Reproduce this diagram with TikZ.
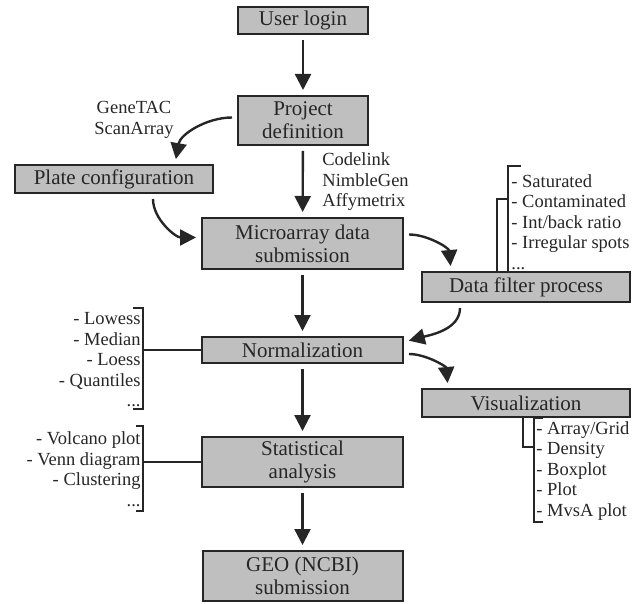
\documentclass[tikz,border=0pt]{standalone}
\usepackage{fontspec}
\setmainfont{Liberation Serif}
\usetikzlibrary{arrows.meta}
\newcommand\boxtxt{\fontsize{10.5}{11.5}\selectfont}
\newcommand\itemtxt{\fontsize{9.25}{10.25}\selectfont}

\begin{document}
\begin{tikzpicture}[x=0.5pt,y=-0.5pt,>={Triangle[length=8pt,width=8pt]},
 box/.style={draw=black!85,fill=black!25,line width=1pt,inner sep=0pt,align=center,font=\boxtxt,text=black!85},
 arr/.style={->,line width=1.2pt,draw=black!85,shorten <=2.5pt,shorten >=2.5pt},
 brk/.style={line width=1pt,draw=black!85},
 lst/.style={inner sep=0pt,font=\itemtxt,text=black!85}]
 \useasboundingbox (0,0) rectangle (640,603);
 % main column
 \node[box,minimum width=65pt,minimum height=13.5pt] (login) at (303,20.5) {User login};
 \node[box,minimum width=65pt,minimum height=24.5pt] (proj) at (303,120.5) {Project\\definition};
 \node[box,minimum width=99pt,minimum height=14pt] (plate) at (114,179) {Plate configuration};
 \node[box,minimum width=100.5pt,minimum height=25.5pt] (micro) at (302.5,243.5) {Microarray data\\submission};
 \node[box,minimum width=104pt,minimum height=15pt] (filter) at (526,287) {Data filter process};
 \node[box,minimum width=100.5pt,minimum height=13pt] (norm) at (302.5,350) {Normalization};
 \node[box,minimum width=104pt,minimum height=14pt] (vis) at (526,403) {Visualization};
 \node[box,minimum width=100.5pt,minimum height=25pt] (stat) at (302.5,462) {Statistical\\analysis};
 \node[box,minimum width=100pt,minimum height=25pt] (geo) at (302.5,576) {GEO (NCBI)\\submission};
 % labels
 \node[lst,align=center] (scan) at (134,120) {GeneTAC\\ScanArray};
 \node[lst,align=left,anchor=west] (chips) at (322,182) {Codelink\\NimbleGen\\Affymetrix};
 \node[lst,align=left,anchor=west] (flist) at (511,222) {- Saturated\\- Contaminated\\- Int/back ratio\\- Irregular spots\\...};
 \node[lst,align=left,anchor=west] (vlist) at (536,471) {- Array/Grid\\- Density\\- Boxplot\\- Plot\\- MvsA plot};
 \node[lst,align=right,anchor=east] (nlist) at (141,360) {- Lowess\\- Median\\- Loess\\- Quantiles\\...};
 \node[lst,align=right,anchor=east] (slist) at (141,469) {- Volcano plot\\- Venn diagram\\- Clustering\\...};
 % straight arrows
 \draw[arr] (login) -- (proj);
 \draw[arr] (proj) -- (micro);
 \draw[arr] (micro) -- (norm);
 \draw[arr] (norm) -- (stat);
 \draw[arr] (stat) -- (geo);
 % curved arrows
 \draw[arr] ([shift={(0,-3)}]proj.west) to[out=180,in=80] ([shift={(61,0)}]plate.north);
 \draw[arr] ([shift={(39,0)}]plate.south) to[out=-90,in=180] ([shift={(0,-6)}]micro.west);
 \draw[arr] ([shift={(0,-9)}]micro.east) to[out=0,in=95] ([shift={(-75,0)}]filter.north);
 \draw[arr] ([shift={(-66,0)}]filter.south) to[out=-90,in=15] ([shift={(0,-8)}]norm.east);
 \draw[arr] ([shift={(0,4)}]norm.east) to[out=0,in=95] ([shift={(-78,0)}]vis.north);
 % brackets
 \coordinate (fbr) at (508,199);
 \coordinate (vbr) at (534,447);
 \coordinate (nbr) at (143,350);
 \coordinate (sbr) at (143,462);
 \draw[brk] (521,166) -| (508,272) -- (519,272); %filter
 \draw[brk] (543,418) -| (534,522) -- (543,522); %visualization
 \draw[brk] (133,308) -| (143,409) -- (133,409); %normalization
 \draw[brk] (136,426) -| (143,511) -- (136,511); %statistics
 \draw[brk] ([shift={(-29,0)}]filter.north) |- (fbr);
 \draw[brk] ([shift={(-3,0)}]vis.south) |- (vbr);
 \draw[brk] (nbr) -- (norm.west);
 \draw[brk] (sbr) -- (stat.west);
\end{tikzpicture}
\end{document}
